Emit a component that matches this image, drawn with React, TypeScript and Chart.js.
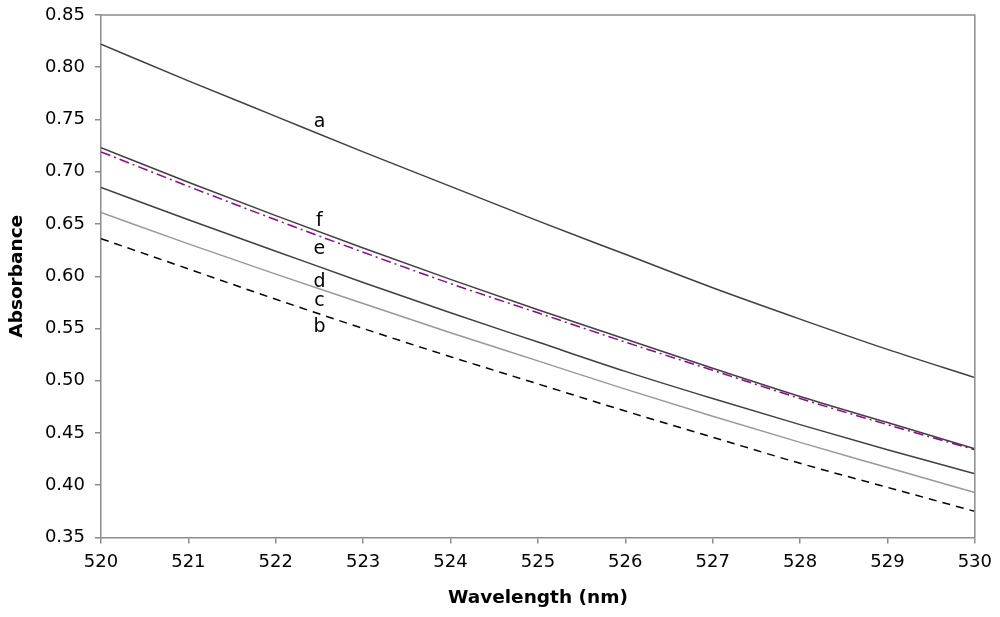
import { useEffect, useRef } from "react";
import { Chart, registerables, Plugin } from "chart.js";

Chart.register(...registerables);

// wavelength (nm)
const wavelengths = [520, 521, 522, 523, 524, 525, 526, 527, 528, 529, 530];

// absorbance readings per sample
const seriesA = [0.822, 0.787, 0.753, 0.719, 0.686, 0.653, 0.621, 0.589, 0.559, 0.53, 0.503];
const seriesB = [0.636, 0.607, 0.578, 0.55, 0.523, 0.497, 0.471, 0.446, 0.421, 0.398, 0.375];
const seriesC = [0.661, 0.631, 0.602, 0.574, 0.546, 0.519, 0.492, 0.466, 0.441, 0.417, 0.393];
const seriesD = [0.685, 0.654, 0.624, 0.594, 0.565, 0.537, 0.509, 0.483, 0.458, 0.434, 0.411];
const seriesE = [0.719, 0.686, 0.654, 0.623, 0.593, 0.565, 0.537, 0.51, 0.483, 0.458, 0.434];
const seriesF = [0.723, 0.69, 0.658, 0.627, 0.597, 0.568, 0.54, 0.512, 0.485, 0.46, 0.435];

// curve labels placed in data coordinates
const curveNames = ["a", "f", "e", "d", "c", "b"];
const curveLabelX = [522.5, 522.5, 522.5, 522.5, 522.5, 522.5];
const curveLabelY = [0.748, 0.653, 0.626, 0.594, 0.576, 0.551];

const FONT = "'DejaVu Sans', Verdana, sans-serif";

const toPoints = (ys: number[]) => ys.map((y, i) => ({ x: wavelengths[i], y }));

const frameAndLabels: Plugin = {
  id: "frameAndLabels",
  afterDatasetsDraw(chart) {
    const { ctx, chartArea, scales } = chart;
    ctx.save();
    ctx.strokeStyle = "#8c8c8c";
    ctx.lineWidth = 1.5;
    ctx.beginPath();
    ctx.moveTo(chartArea.left, chartArea.top);
    ctx.lineTo(chartArea.right, chartArea.top);
    ctx.lineTo(chartArea.right, chartArea.bottom);
    ctx.stroke();

    ctx.fillStyle = "#000";
    ctx.font = `19px ${FONT}`;
    ctx.textAlign = "center";
    ctx.textBaseline = "middle";
    curveNames.forEach((name, i) => {
      const px = scales.x.getPixelForValue(curveLabelX[i]);
      const py = scales.y.getPixelForValue(curveLabelY[i]);
      ctx.fillText(name, px, py);
    });
    ctx.restore();
  },
};

const AbsorbanceChart = () => {
  const chartRef = useRef<HTMLCanvasElement | null>(null);

  useEffect(() => {
    document.body.style.margin = "0";
    if (!chartRef.current) return;
    const ctx = chartRef.current.getContext("2d");
    if (!ctx) return;

    const line = {
      fill: false,
      pointRadius: 0,
      borderWidth: 1.5,
      cubicInterpolationMode: "monotone" as const,
    };

    const myChart = new Chart(ctx, {
      type: "line",
      data: {
        datasets: [
          { ...line, label: "a", data: toPoints(seriesA), borderColor: "#404040" },
          { ...line, label: "b", data: toPoints(seriesB), borderColor: "#000000", borderDash: [8, 6] },
          { ...line, label: "c", data: toPoints(seriesC), borderColor: "#999999" },
          { ...line, label: "d", data: toPoints(seriesD), borderColor: "#404040" },
          { ...line, label: "f", data: toPoints(seriesF), borderColor: "#404040" },
          { ...line, label: "e", data: toPoints(seriesE), borderColor: "#990099", borderDash: [10, 4, 2, 4] },
        ],
      },
      options: {
        animation: false,
        responsive: false,
        layout: { padding: { left: 0, top: 15, right: 25, bottom: 0 } },
        plugins: {
          legend: { display: false },
          tooltip: { enabled: false },
        },
        scales: {
          x: {
            type: "linear",
            min: 520,
            max: 530,
            ticks: {
              stepSize: 1,
              color: "#000",
              font: { family: FONT, size: 18 },
              padding: 8,
              maxRotation: 0,
            },
            grid: {
              drawOnChartArea: false,
              tickLength: 6,
              color: "#8c8c8c",
              lineWidth: 1.5,
            },
            border: { color: "#8c8c8c", width: 1.5 },
            title: {
              display: true,
              text: "Wavelength (nm)",
              color: "#000",
              font: { family: FONT, size: 18.5, weight: "bold" },
              padding: { top: 8, bottom: 8 },
            },
            afterFit: (s) => {
              s.height = 79.5;
            },
          },
          y: {
            min: 0.35,
            max: 0.85,
            ticks: {
              stepSize: 0.05,
              color: "#000",
              font: { family: FONT, size: 18 },
              padding: 10,
              callback: (v) => Number(v).toFixed(2),
            },
            grid: {
              drawOnChartArea: false,
              tickLength: 6,
              color: "#8c8c8c",
              lineWidth: 1.5,
            },
            border: { color: "#8c8c8c", width: 1.5 },
            title: {
              display: true,
              text: "Absorbance",
              color: "#000",
              font: { family: FONT, size: 18.5, weight: "bold" },
              padding: { top: 6, bottom: 6 },
            },
            afterFit: (s) => {
              s.width = 101;
              s.paddingTop = 0;
              s.paddingBottom = 0;
            },
          },
        },
      },
      plugins: [frameAndLabels],
    });

    return () => {
      myChart.destroy();
    };
  }, []);

  return (
    <div style={{ width: 1000, height: 617, background: "#fff" }}>
      <canvas ref={chartRef} width="1000" height="617"></canvas>
    </div>
  );
};

export default function App() {
  return <AbsorbanceChart />;
}
